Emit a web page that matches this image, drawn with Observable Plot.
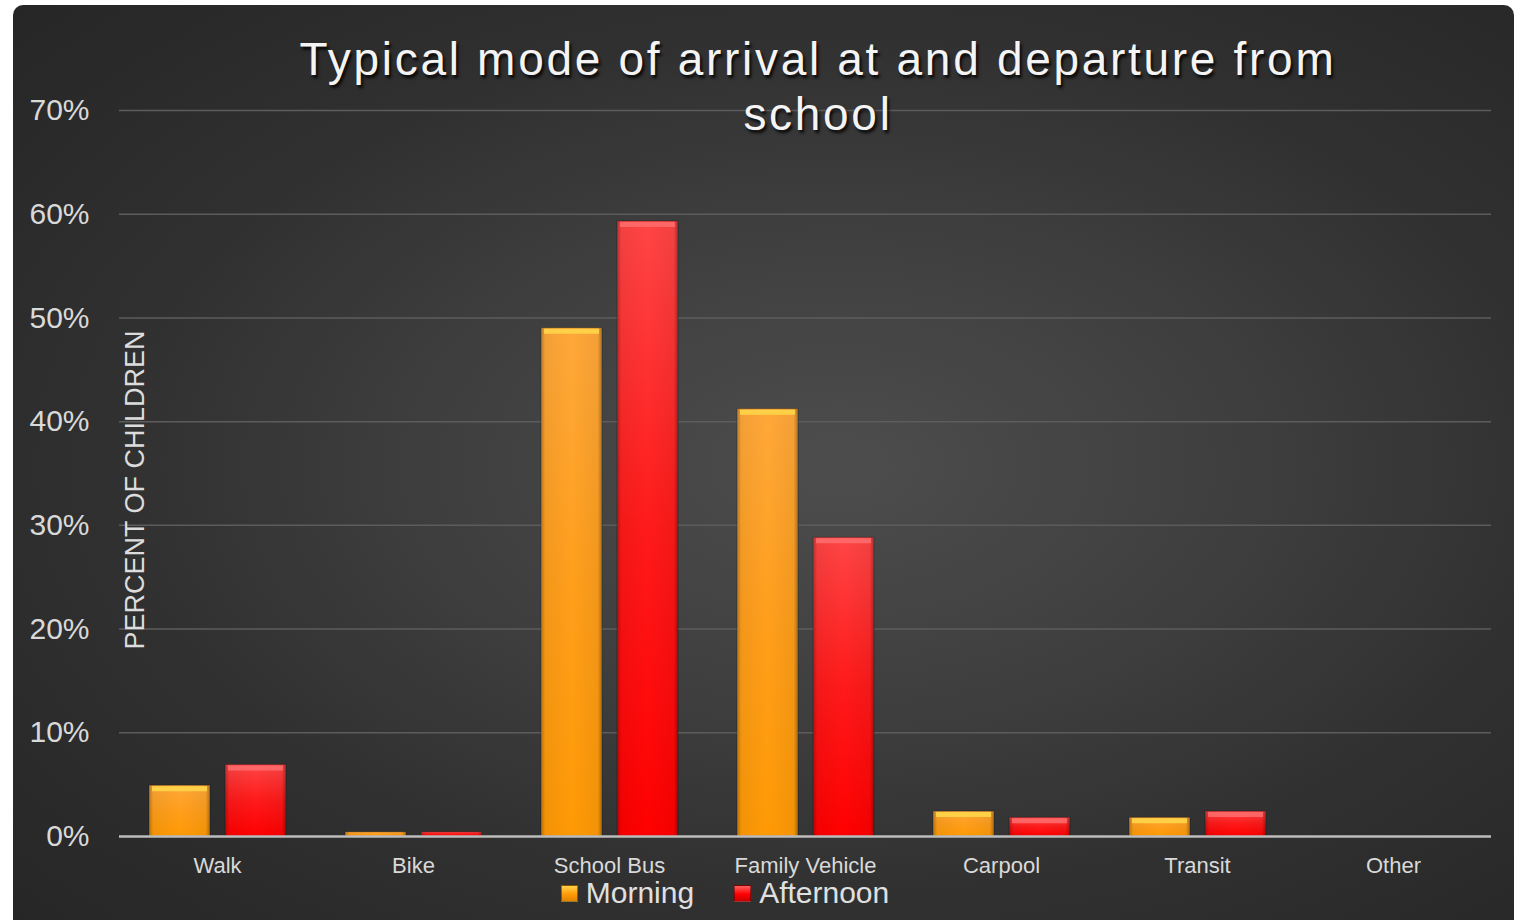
<!DOCTYPE html>
<html>
<head>
<meta charset="utf-8">
<script src="https://cdn.jsdelivr.net/npm/d3@7"></script>
<script src="https://cdn.jsdelivr.net/npm/@observablehq/plot@0.6"></script>
<style>
  html, body { margin: 0; padding: 0; background: #fff; }
  #wrap { position: relative; width: 1521px; height: 920px; overflow: hidden; background: #fff; font-family: "Liberation Sans", Arial, sans-serif; }
  #panel { position: absolute; left: 13px; top: 5px; width: 1501px; height: 960px; border-radius: 10px 10px 0 0;
    background: radial-gradient(ellipse 75% 70% at 55% 48%, #4d4d4d 0%, #3f3f3f 35%, #303030 65%, #262626 100%); }
  #chart { position: absolute; left: 0; top: 0; }
  #title { position: absolute; left: 218px; width: 1200px; top: 32px; text-align: center; color: #f4f4f4;
    font-size: 46px; line-height: 55px; letter-spacing: 2.7px; text-shadow: 2px 3px 3px rgba(0,0,0,0.85); }
  #ylabel { position: absolute; left: 135px; top: 490px; transform: translate(-50%, -50%) rotate(-90deg);
    white-space: nowrap; color: #dcdcdc; font-size: 27px; }
  #legend { position: absolute; top: 876px; left: 0; width: 1450px; display: flex; justify-content: center; gap: 40px; color: #e0e0e0; font-size: 30px; }
  .item { display: flex; align-items: center; gap: 8px; }
  .sw { width: 15px; height: 15px; border: 1px solid rgba(0,0,0,0.4); }
</style>
</head>
<body>
<div id="wrap">
  <div id="panel"></div>
  <div id="chart"></div>
  <div id="title">Typical mode of arrival at and departure from<br>school</div>
  <div id="ylabel">PERCENT OF CHILDREN</div>
  <div id="legend"></div>
</div>
<script>
const categories = ["Walk", "Bike", "School Bus", "Family Vehicle", "Carpool", "Transit", "Other"];
const seriesNames = ["Morning", "Afternoon"];
const morning = [4.9, 0.4, 49.0, 41.2, 2.4, 1.8, 0];
const afternoon = [6.9, 0.4, 59.3, 28.8, 1.8, 2.4, 0];
const yTicks = [0, 10, 20, 30, 40, 50, 60, 70];

const rows = [];
categories.forEach((c, i) => {
  rows.push({category: c, series: "Morning", value: morning[i]});
  rows.push({category: c, series: "Afternoon", value: afternoon[i]});
});

const W = 1521, H = 880;
const chart = Plot.plot({
  width: W,
  height: H,
  marginLeft: 117,
  marginRight: 28,
  marginTop: 110,
  marginBottom: H - 836,
  style: {background: "transparent", color: "#d9d9d9", fontSize: "30px", fontFamily: "'Liberation Sans', Arial, sans-serif", overflow: "visible"},
  facet: {data: rows, x: "category"},
  fx: {domain: categories, padding: 0, axis: "bottom", label: null, tickSize: 0, tickPadding: 21},
  x: {domain: seriesNames, paddingInner: 0.2, paddingOuter: 0.38, axis: null},
  y: {domain: [0, 70], ticks: yTicks, tickFormat: d => d + "%", tickSize: 0, tickPadding: 30, label: null},
  color: {domain: seriesNames, range: ["url(#gMorning)", "url(#gAfternoon)"]},
  marks: [
    Plot.ruleY(yTicks.slice(1), {stroke: "#5c5c5c", strokeWidth: 1.5}),
    Plot.barY(rows, {x: "series", y: "value", fill: "series", stroke: "#00000040", strokeWidth: 1}),
    Plot.barY(rows, {x: "series", y: "value", fill: "#010203"}),
    Plot.tickY(rows, {filter: d => d.series === "Morning" && d.value > 1, x: "series", y: "value", stroke: "#ffd84a", strokeWidth: 5, dy: 3, strokeOpacity: 0.85, insetLeft: 3, insetRight: 3}),
    Plot.tickY(rows, {filter: d => d.series === "Afternoon" && d.value > 1, x: "series", y: "value", stroke: "#ff7070", strokeWidth: 5, dy: 3, strokeOpacity: 0.8, insetLeft: 3, insetRight: 3}),
    Plot.ruleY([0], {stroke: "#bdbdbd", strokeWidth: 2.5})
  ]
});

const svg = d3.select(chart);
const defs = svg.insert("defs", ":first-child");
function vgrad(id, stops) {
  const g = defs.append("linearGradient").attr("id", id).attr("x1", 0).attr("y1", 0).attr("x2", 0).attr("y2", 1);
  stops.forEach(([o, c]) => g.append("stop").attr("offset", o).attr("stop-color", c));
}
vgrad("gMorning", [["0%", "#ffa83a"], ["50%", "#ff9f1c"], ["100%", "#ff9a05"]]);
vgrad("gAfternoon", [["0%", "#ff4545"], ["50%", "#ff1a1a"], ["100%", "#ff0000"]]);
const eg = defs.append("linearGradient").attr("id", "gEdge").attr("x1", 0).attr("y1", 0).attr("x2", 1).attr("y2", 0);
[["0%", "rgba(0,0,0,0.28)"], ["7%", "rgba(0,0,0,0.05)"], ["50%", "rgba(0,0,0,0)"], ["93%", "rgba(0,0,0,0.05)"], ["100%", "rgba(0,0,0,0.32)"]]
  .forEach(([o, c]) => eg.append("stop").attr("offset", o).attr("stop-color", c));
svg.selectAll('[fill="#010203"]').attr("fill", "url(#gEdge)");
svg.selectAll('[aria-label^="fx-axis"] text').style("font-size", "22px").attr("fill", "#d9d9d9");
svg.selectAll('[aria-label^="fx-axis"]').style("font-size", "22px");

document.getElementById("chart").appendChild(chart);

const legend = d3.select("#legend");
const swatchBg = {Morning: "linear-gradient(#ffd24a, #ff9a05 55%, #e08300)", Afternoon: "linear-gradient(#ff6060, #ff0000 55%, #cc0000)"};
seriesNames.forEach(s => {
  const it = legend.append("div").attr("class", "item");
  it.append("div").attr("class", "sw").style("background", swatchBg[s]);
  it.append("span").text(s);
});
</script>
</body>
</html>
